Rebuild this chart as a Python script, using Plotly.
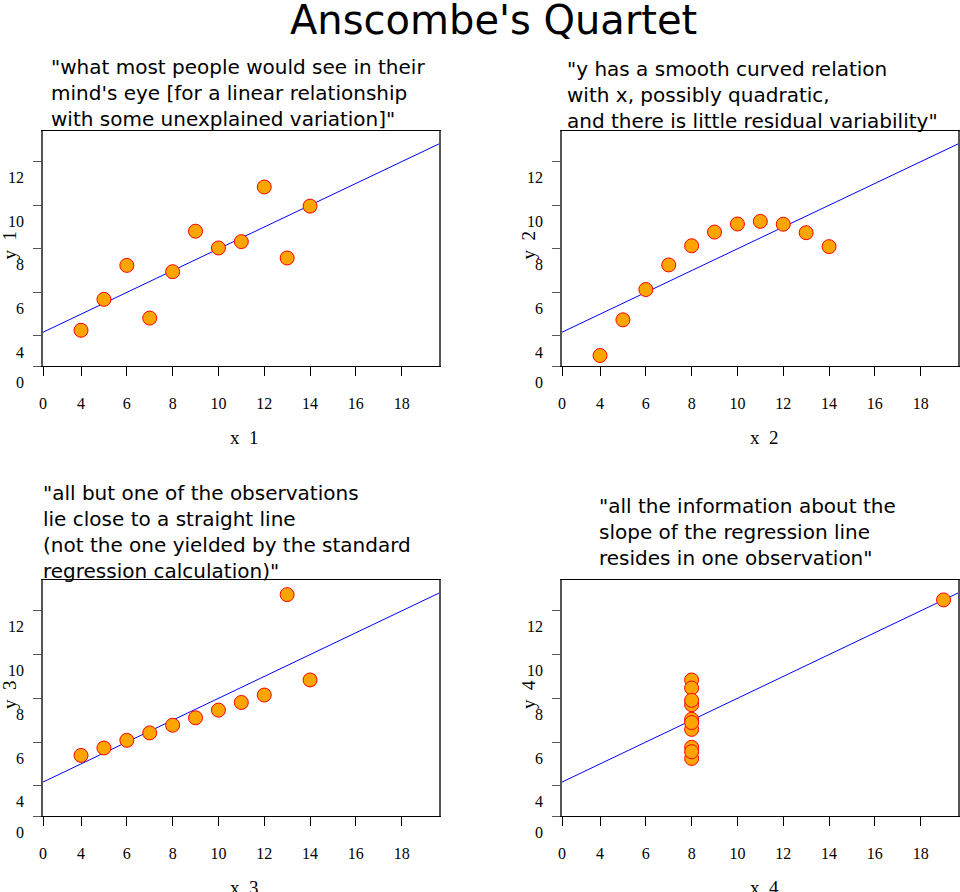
import numpy as np
import plotly.graph_objects as go

# ---- data (Anscombe's quartet) ----
x123 = [10, 8, 13, 9, 11, 14, 6, 4, 12, 7, 5]
y1 = [8.04, 6.95, 7.58, 8.81, 8.33, 9.96, 7.24, 4.26, 10.84, 4.82, 5.68]
y2 = [9.14, 8.14, 8.74, 8.77, 9.26, 8.10, 6.13, 3.10, 9.13, 7.26, 4.74]
y3 = [7.46, 6.77, 12.74, 7.11, 7.81, 8.84, 6.08, 5.39, 8.15, 6.42, 5.73]
x4 = [8, 8, 8, 8, 8, 8, 8, 19, 8, 8, 8]
y4 = [6.58, 5.76, 7.71, 8.84, 8.47, 7.04, 5.25, 12.50, 5.56, 7.91, 6.89]

panel_titles = [
    '"what most people would see in their<br>mind\'s eye [for a linear relationship<br>with some unexplained variation]"',
    '"y has a smooth curved relation<br>with x, possibly quadratic,<br>and there is little residual variability"',
    '"all but one of the observations<br>lie close to a straight line<br>(not the one yielded by the standard<br>regression calculation)"',
    '"all the information about the<br>slope of the regression line<br>resides in one observation"',
]
x_titles = ["x  1", "x  2", "x  3", "x  4"]
y_titles = ["y  1", "y  2", "y  3", "y  4"]

# axis break: the low end of each axis is labelled "0"
x_lo, x_hi = 2.34, 19.63
y_lo, y_hi = 2.62, 13.41
x_tickvals = [x_lo, 4, 6, 8, 10, 12, 14, 16, 18]
x_ticktext = ["0", "4", "6", "8", "10", "12", "14", "16", "18"]
y_tickvals = [y_lo, 4, 6, 8, 10, 12]
y_ticktext = ["0", "4", "6", "8", "10", "12"]

W, H = 960, 892
datasets = [(x123, y1), (x123, y2), (x123, y3), (x4, y4)]

# layout geometry (pixels)
col_x = [(43, 439), (562, 958)]
row_y = [(131, 366), (580, 816)]
title_pos = [(50, 93), (566, 94.5), (42, 532), (598, 532)]

fig = go.Figure()
serif = "Liberation Serif"
sans = "DejaVu Sans"

for i, (xs, ys) in enumerate(datasets):
    r, c = divmod(i, 2)
    n = "" if i == 0 else str(i + 1)
    xa, ya = "x" + n, "y" + n
    x0, x1 = col_x[c]
    t0, t1 = row_y[r]
    xdom = [x0 / W, x1 / W]
    ydom = [1 - t1 / H, 1 - t0 / H]

    slope, intercept = np.polyfit(xs, ys, 1)
    lx = np.array([x_lo, x_hi])
    fig.add_trace(go.Scatter(x=lx, y=intercept + slope * lx, mode="lines",
                             line=dict(color="#0000FF", width=1),
                             xaxis=xa, yaxis=ya, showlegend=False, hoverinfo="skip"))
    fig.add_trace(go.Scatter(x=xs, y=ys, mode="markers",
                             marker=dict(size=14, color="#FFA500",
                                         line=dict(color="#FF0000", width=1)),
                             xaxis=xa, yaxis=ya, showlegend=False))

    axis_common = dict(showgrid=False, zeroline=False, showline=True, mirror=True,
                       automargin=False, ticks="outside",
                       tickfont=dict(family=serif, size=16, color="#000"))
    fig.layout["xaxis" + n] = dict(domain=xdom, range=[x_lo, x_hi], anchor=ya,
                                   tickvals=x_tickvals, ticktext=x_ticktext,
                                   ticklen=9, tickcolor="#000", linecolor="#000", linewidth=1,
                                   ticklabelstandoff=14, **axis_common)
    fig.layout["yaxis" + n] = dict(domain=ydom, range=[y_lo, y_hi], anchor=xa,
                                   tickvals=y_tickvals, ticktext=y_ticktext,
                                   ticklen=8, tickcolor="#555", linecolor="#555", linewidth=1.5,
                                   ticklabelshift=16, ticklabelstandoff=6, **axis_common)

    tx, ty = title_pos[i]
    fig.add_annotation(x=tx / W, y=1 - ty / H, xref="paper", yref="paper",
                       text=panel_titles[i], showarrow=False, align="left",
                       xanchor="left", yanchor="middle", borderpad=0,
                       font=dict(family=sans, size=20, color="#000"))
    fig.add_annotation(x=((x0 + x1) / 2 + 4) / W, y=1 - (t1 + 71) / H, xref="paper", yref="paper",
                       text=x_titles[i], showarrow=False, xanchor="center", yanchor="middle",
                       font=dict(family=serif, size=19, color="#000"))
    fig.add_annotation(x=(x0 - 34) / W, y=1 - ((t0 + t1) / 2 - 3) / H, xref="paper", yref="paper",
                       text=y_titles[i], showarrow=False, textangle=-90,
                       xanchor="center", yanchor="middle",
                       font=dict(family=serif, size=19, color="#000"))

fig.add_annotation(x=494 / W, y=1 - 20 / H, xref="paper", yref="paper",
                   text="Anscombe's Quartet", showarrow=False,
                   xanchor="center", yanchor="middle",
                   font=dict(family=sans, size=40, color="#000"))

fig.update_layout(width=W, height=H, margin=dict(l=0, r=0, t=0, b=0),
                  paper_bgcolor="white", plot_bgcolor="white")

fig.write_html("out.html")
